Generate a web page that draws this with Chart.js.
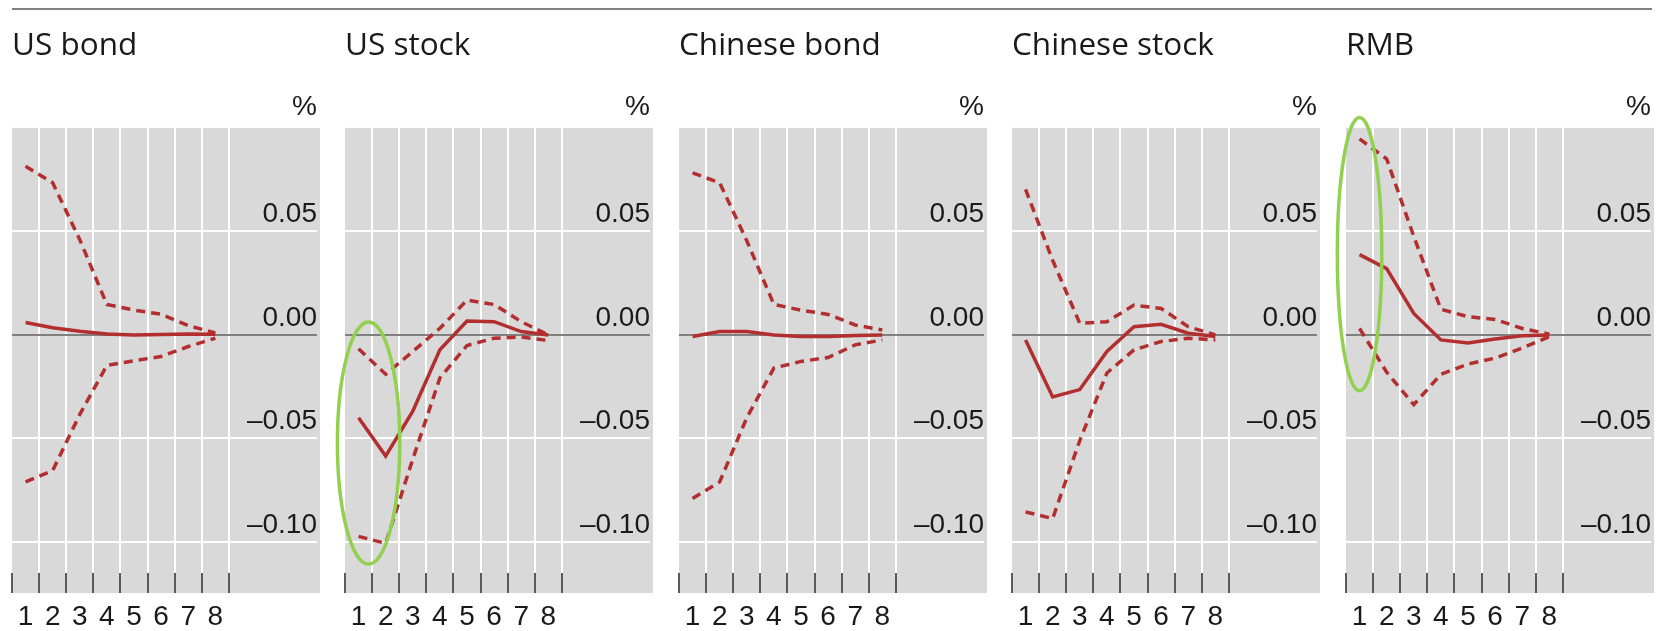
<!DOCTYPE html>
<html>
<head>
<meta charset="utf-8">
<title>Impulse responses</title>
<script src="https://cdn.jsdelivr.net/npm/chart.js@4/dist/chart.umd.min.js"></script>
<style>
  html, body { margin: 0; padding: 0; background: #ffffff; }
  body { width: 1675px; height: 631px; position: relative; overflow: hidden; }
  .rule { position: absolute; left: 12px; top: 8px; width: 1640px; height: 2px; background: #808080; }
  canvas { position: absolute; top: 0; }
</style>
</head>
<body>
<div class="rule"></div>
<canvas id="panel0" width="333" height="641" style="left:0px"></canvas>
<canvas id="panel1" width="333" height="641" style="left:333px"></canvas>
<canvas id="panel2" width="333" height="641" style="left:667px"></canvas>
<canvas id="panel3" width="333" height="641" style="left:1000px"></canvas>
<canvas id="panel4" width="333" height="641" style="left:1334px"></canvas>
<script>
// Horizon (periods after the shock) and axis labels
const periods = [1, 2, 3, 4, 5, 6, 7, 8];
const periodLabels = ['1', '2', '3', '4', '5', '6', '7', '8'];
const yTickValues = [0.05, 0, -0.05, -0.10];
const yTickLabels = ['0.05', '0.00', '\u20130.05', '\u20130.10'];
const panelTitles = ['US bond', 'US stock', 'Chinese bond', 'Chinese stock', 'RMB'];

// Responses (%) with upper / lower confidence bands
const usBondResponse = [0.0060, 0.0035, 0.0018, 0.0005, 0.0000, 0.0002, 0.0004, 0.0003];
const usBondUpper    = [0.0815, 0.0735, 0.0460, 0.0147, 0.0120, 0.0100, 0.0045, 0.0010];
const usBondLower    = [-0.0710, -0.0655, -0.0384, -0.0147, -0.0125, -0.0104, -0.0056, -0.0016];

const usStockResponse = [-0.0400, -0.0585, -0.0368, -0.0072, 0.0067, 0.0064, 0.0016, 0.0000];
const usStockUpper    = [-0.0067, -0.0190, -0.0080, 0.0032, 0.0168, 0.0147, 0.0064, 0.0000];
const usStockLower    = [-0.0973, -0.1007, -0.0600, -0.0208, -0.0051, -0.0016, -0.0010, -0.0027];

const cnBondResponse = [-0.0008, 0.0016, 0.0016, 0.0000, -0.0008, -0.0008, -0.0003, 0.0000];
const cnBondUpper    = [0.0783, 0.0735, 0.0455, 0.0147, 0.0120, 0.0099, 0.0048, 0.0024];
const cnBondLower    = [-0.0790, -0.0710, -0.0400, -0.0160, -0.0128, -0.0109, -0.0048, -0.0024];

const cnStockResponse = [-0.0024, -0.0300, -0.0264, -0.0080, 0.0040, 0.0051, 0.0008, -0.0008];
const cnStockUpper    = [0.0703, 0.0360, 0.0056, 0.0064, 0.0144, 0.0128, 0.0040, 0.0000];
const cnStockLower    = [-0.0855, -0.0887, -0.0510, -0.0184, -0.0072, -0.0032, -0.0016, -0.0024];

const rmbResponse = [0.0388, 0.0320, 0.0104, -0.0024, -0.0039, -0.0020, -0.0004, 0.0000];
const rmbUpper    = [0.0947, 0.0850, 0.0476, 0.0124, 0.0088, 0.0075, 0.0031, 0.0004];
const rmbLower    = [0.0031, -0.0180, -0.0337, -0.0190, -0.0141, -0.0112, -0.0063, -0.0008];

// Highlight rings (centre and radii in axis units)
const usStockRing = { x: 1.37, y: -0.0522, rx: 1.15, ry: 0.0585 };
const rmbRing     = { x: 1.00, y: 0.0390, rx: 0.82, ry: 0.0660 };

const panels = [
  { title: panelTitles[0], response: usBondResponse, upper: usBondUpper, lower: usBondLower, ring: null },
  { title: panelTitles[1], response: usStockResponse, upper: usStockUpper, lower: usStockLower, ring: usStockRing },
  { title: panelTitles[2], response: cnBondResponse, upper: cnBondUpper, lower: cnBondLower, ring: null },
  { title: panelTitles[3], response: cnStockResponse, upper: cnStockUpper, lower: cnStockLower, ring: null },
  { title: panelTitles[4], response: rmbResponse, upper: rmbUpper, lower: rmbLower, ring: rmbRing }
];

const RED = '#b32f2f';
const TEXT = '#1a1a1a';
const NUM_FONT = '"Liberation Sans", Arial, sans-serif';

// Grey plot panel, extended to cover the tick strip underneath and the label column
const panelBackground = {
  id: 'panelBackground',
  beforeDraw(chart, args, opts) {
    const { ctx, chartArea: a } = chart;
    ctx.save();
    ctx.fillStyle = opts.color;
    ctx.fillRect(a.left, a.top, a.right - a.left + opts.extendRight, a.bottom - a.top + opts.extendBottom);
    ctx.restore();
  }
};

// Green ring drawn on top of the lines
const highlightRing = {
  id: 'highlightRing',
  afterDatasetsDraw(chart, args, opts) {
    const h = opts.ring;
    if (!h) return;
    const xs = chart.scales.x, ys = chart.scales.y, ctx = chart.ctx;
    const cx = xs.getPixelForValue(h.x), cy = ys.getPixelForValue(h.y);
    const rx = Math.abs(xs.getPixelForValue(h.x + h.rx) - cx);
    const ry = Math.abs(ys.getPixelForValue(h.y + h.ry) - cy);
    ctx.save();
    ctx.beginPath();
    ctx.ellipse(cx, cy, rx, ry, 0, 0, Math.PI * 2);
    ctx.strokeStyle = opts.color;
    ctx.lineWidth = opts.width;
    ctx.stroke();
    ctx.restore();
  }
};

function toPoints(values) {
  return periods.map((p, i) => ({ x: p, y: values[i] }));
}

function buildPanel(canvasId, panel) {
  const lineBase = { borderColor: RED, borderWidth: 3.5, pointRadius: 0, tension: 0, fill: false };
  return new Chart(document.getElementById(canvasId), {
    type: 'line',
    data: {
      datasets: [
        Object.assign({ label: 'upper', data: toPoints(panel.upper), borderDash: [9, 6] }, lineBase),
        Object.assign({ label: 'response', data: toPoints(panel.response) }, lineBase),
        Object.assign({ label: 'lower', data: toPoints(panel.lower), borderDash: [9, 6] }, lineBase)
      ]
    },
    options: {
      responsive: false,
      animation: false,
      layout: { padding: { left: 12, right: 16, top: 0, bottom: 0 } },
      plugins: {
        legend: { display: false },
        tooltip: { enabled: false },
        title: {
          display: true, text: panel.title, align: 'start', color: TEXT,
          font: { family: '"Open Sans", "Noto Sans", sans-serif', size: 31.5, weight: 'normal', lineHeight: 1.2 },
          padding: { top: 27, bottom: 0 }
        },
        subtitle: {
          display: true, text: '%', align: 'end', color: TEXT,
          font: { family: NUM_FONT, size: 28, weight: 'normal', lineHeight: 1.2 },
          padding: { top: 26, bottom: 3.5 }
        },
        panelBackground: { color: '#d9d9d9', extendRight: 3, extendBottom: 20 },
        highlightRing: { ring: panel.ring, color: '#92d050', width: 3.5 }
      },
      scales: {
        x: {
          type: 'linear', min: 0.5, max: 11.75,
          afterBuildTicks: (s) => { s.ticks = periods.map(v => ({ value: v })); },
          ticks: {
            autoSkip: false, maxRotation: 0, padding: 8.6, color: TEXT,
            font: { family: NUM_FONT, size: 28, lineHeight: 1.1 },
            callback: (v, i) => periodLabels[i]
          },
          grid: {
            offset: true, lineWidth: 2,
            color: (c) => (c.index === 0 ? 'rgba(0,0,0,0)' : '#ffffff'),
            drawTicks: true, tickLength: 20, tickWidth: 2, tickColor: '#5a5a5a'
          },
          border: { display: false }
        },
        y: {
          type: 'linear', position: 'right', min: -0.115, max: 0.1,
          afterBuildTicks: (s) => { s.ticks = yTickValues.map(v => ({ value: v })); },
          ticks: {
            mirror: true, padding: 0, labelOffset: -17, color: TEXT,
            font: { family: NUM_FONT, size: 28, lineHeight: 1.2 },
            callback: (v, i) => yTickLabels[i]
          },
          grid: {
            lineWidth: 2, drawTicks: false,
            color: (c) => (c.tick && c.tick.value === 0 ? '#808080' : '#ffffff')
          },
          border: { display: false }
        }
      }
    },
    plugins: [panelBackground, highlightRing]
  });
}

panels.forEach((p, i) => buildPanel('panel' + i, p));
</script>
</body>
</html>
